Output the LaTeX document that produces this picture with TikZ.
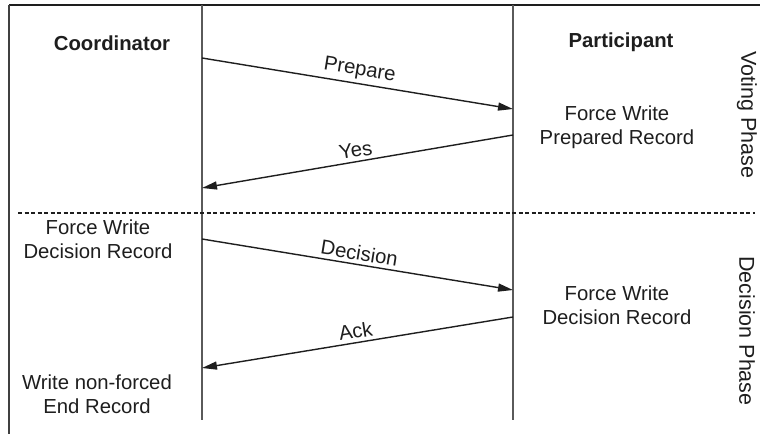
\documentclass[tikz,border=0pt]{standalone}
\usepackage{fontspec}
\setmainfont{Liberation Sans}
\usetikzlibrary{arrows.meta}
\definecolor{ink}{HTML}{1E1E1E}
\definecolor{lifeline}{HTML}{5A5A5A}
\begin{document}
\begin{tikzpicture}[x=1pt,y=-1pt,
  txt/.style={font=\fontsize{20.3}{24}\selectfont, align=center, inner sep=0pt, text=ink},
  head/.style={txt, font=\fontsize{20.3}{24}\selectfont\bfseries},
  phase/.style={txt, font=\fontsize{21.5}{24}\selectfont, rotate=-90},
  life/.style={draw=lifeline, line width=2pt},
  msg/.style={draw=ink, line width=1.4pt, -{Triangle[length=15pt,width=8pt]}},
  msglabel/.style={txt, sloped, above, inner sep=3.5pt},
  divider/.style={draw=ink, line width=1.5pt, dash pattern=on 4pt off 2.5pt}]
\useasboundingbox (0,0) rectangle (760,434);
\clip (0,0) rectangle (760,434);
\fill[white] (0,0) rectangle (760,434);

% frame: top rule and left edge
\coordinate (tl) at (9,5);
\coordinate (tr) at (760,5);
\coordinate (bl) at (9,434);
\draw[ink, line width=2.6pt] (tl) -- (tr);
\draw[ink!85, line width=1.6pt] (tl) -- (bl);

% lifelines
\coordinate (ctop) at (202,5);
\coordinate (cbot) at (202,420);
\coordinate (ptop) at (513,5);
\coordinate (pbot) at (513,420);
\draw[life] (ctop) -- (cbot);
\draw[life] (ptop) -- (pbot);

% phase divider
\coordinate (dl) at (18,213);
\coordinate (dr) at (755,213);
\draw[divider] (dl) -- (dr);

% headings
\node[head] (coord) at (112,43) {Coordinator};
\node[head] (part) at (621,42) {Participant};

% log actions
\node[txt] (prep) at (617,127) {Force Write\\Prepared Record};
\node[txt] (cdec) at (98,239) {Force Write\\Decision Record};
\node[txt] (pdec) at (617,305) {Force Write\\Decision Record};
\node[txt] (cend) at (97,394) {Write non-forced\\End Record};

% phase names
\node[phase] (voting) at (747,115) {Voting Phase};
\node[phase] (decphase) at (747,331) {Decision Phase};

% message end points on the lifelines
\coordinate (c1) at (202,58);
\coordinate (p1) at (513,109);
\coordinate (p2) at (513,135);
\coordinate (c2) at (202,188);
\coordinate (c3) at (202,239);
\coordinate (p3) at (513,290);
\coordinate (p4) at (513,317);
\coordinate (c4) at (202,368);

% messages
\draw[msg] (c1) -- node[msglabel] {Prepare} (p1);
\draw[msg] (p2) -- node[msglabel] {Yes} (c2);
\draw[msg] (c3) -- node[msglabel] {Decision} (p3);
\draw[msg] (p4) -- node[msglabel] {Ack} (c4);
\end{tikzpicture}
\end{document}
